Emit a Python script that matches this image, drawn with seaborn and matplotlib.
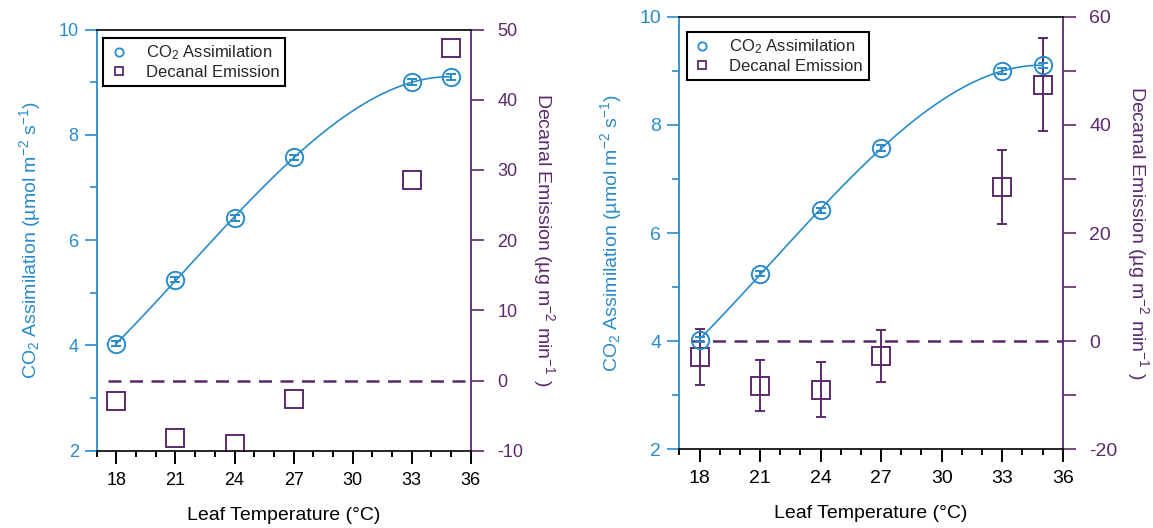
import matplotlib
matplotlib.use("Agg")
import matplotlib.pyplot as plt
from matplotlib.lines import Line2D
from matplotlib.ticker import MultipleLocator
import seaborn as sns
import numpy as np

# ---- data ----
temps = [18, 21, 24, 27, 33, 35]
co2 = [4.03, 5.25, 6.42, 7.57, 9.00, 9.10]
co2_err = [0.05, 0.04, 0.05, 0.05, 0.06, 0.05]
decanal = [-2.9, -8.2, -9.0, -2.7, 28.5, 47.4]
decanal_err = [5.2, 4.7, 5.1, 4.8, 6.8, 8.6]

x_ticks = [18, 21, 24, 27, 30, 33, 36]
left_ylim = (2, 10)
right_ylim_a = (-10, 50)
right_ylim_b = (-20, 60)

BLUE = "#2a8bc9"
PURPLE = "#5b2a6b"

sns.set_theme(style="ticks")
plt.rcParams["font.family"] = ["Liberation Sans", "DejaVu Sans"]
plt.rcParams["mathtext.fontset"] = "custom"
plt.rcParams["mathtext.rm"] = "Liberation Sans"
plt.rcParams["mathtext.it"] = "Liberation Sans:italic"
plt.rcParams["mathtext.default"] = "regular"
plt.rcParams["axes.unicode_minus"] = False

fig = plt.figure(figsize=(11.53, 5.28), dpi=100)

def panel(rect, rylim, rmajor, rminor, show_err, legend_anchor, tick_fs):
    ax = fig.add_axes(rect)
    ax2 = ax.twinx()
    ax.set_xlim(17, 36)
    ax.set_ylim(*left_ylim)
    ax2.set_ylim(*rylim)

    # reference line at zero
    ax2.axhline(0, xmin=0.03, xmax=1, color=PURPLE, lw=1.8,
                linestyle=(0, (5.2, 3.4)), zorder=1)

    # decanal emission
    ax2.errorbar(temps, decanal, yerr=decanal_err if show_err else None,
                 fmt="s", ms=12.5, mfc="none", mec=PURPLE, mew=1.4,
                 ecolor=PURPLE, elinewidth=1.4, capsize=3.6, capthick=1.4,
                 zorder=3)

    # co2 assimilation fit + points
    sns.regplot(x=np.array(temps), y=np.array(co2), order=3, ci=None,
                scatter=False, ax=ax, line_kws=dict(color=BLUE, lw=1.2))
    ax.errorbar(temps, co2, yerr=co2_err, fmt="o", ms=12.5, mfc="none",
                mec=BLUE, mew=1.4, ecolor=BLUE, elinewidth=1.4,
                capsize=3.6, capthick=1.4, zorder=4)
    ax.set_zorder(ax2.get_zorder() + 1)
    ax.patch.set_visible(False)

    # ticks
    ax.set_xticks(x_ticks)
    ax.xaxis.set_minor_locator(MultipleLocator(1))
    ax.yaxis.set_major_locator(MultipleLocator(2))
    ax.yaxis.set_minor_locator(MultipleLocator(1))
    ax2.yaxis.set_major_locator(MultipleLocator(rmajor))
    if rminor:
        ax2.yaxis.set_minor_locator(MultipleLocator(rminor))

    ax.tick_params(axis="x", which="major", direction="out", length=9,
                   width=1.4, colors="black", labelsize=tick_fs, pad=6)
    ax.tick_params(axis="x", which="minor", direction="out", length=4.5,
                   width=1.4, colors="black")
    ax.tick_params(axis="y", which="major", direction="out", length=9,
                   width=1.2, colors=BLUE, labelsize=tick_fs, pad=4)
    ax.tick_params(axis="y", which="minor", direction="out", length=5,
                   width=1.2, colors=BLUE)
    ax2.tick_params(axis="y", which="major", direction="out", length=9,
                    width=1.2, colors=PURPLE, labelsize=tick_fs, pad=10)
    ax2.tick_params(axis="y", which="minor", direction="out", length=9,
                    width=1.2, colors=PURPLE)

    for s in ["top", "bottom"]:
        ax.spines[s].set_color("black")
        ax.spines[s].set_linewidth(1.2)
    ax.spines["left"].set_color(BLUE)
    ax.spines["left"].set_linewidth(1.3)
    ax.spines["right"].set_visible(False)
    for s in ["top", "bottom", "left"]:
        ax2.spines[s].set_visible(False)
    ax2.spines["right"].set_color(PURPLE)
    ax2.spines["right"].set_linewidth(1.3)

    ax.set_xlabel("Leaf Temperature (°C)", fontsize=14, color="black",
                  labelpad=13)
    ax.set_ylabel(r"CO$_2$ Assimilation (µmol m$^{-2}$ s$^{-1}$)",
                  fontsize=14, color=BLUE, labelpad=11)
    ax2.set_ylabel(r"Decanal Emission (µg m$^{-2}$ min$^{-1}$ )",
                   fontsize=14, color=PURPLE, rotation=270, labelpad=24)

    handles = [
        Line2D([], [], ls="none", marker="o", ms=6, mfc="none", mec=BLUE,
               mew=1.3),
        Line2D([], [], ls="none", marker="s", ms=6, mfc="none", mec=PURPLE,
               mew=1.3),
    ]
    leg = ax.legend(handles, [r"CO$_2$ Assimilation", "Decanal Emission"],
                    loc="upper left", bbox_to_anchor=legend_anchor,
                    borderaxespad=0, frameon=True, fancybox=False,
                    framealpha=1, edgecolor="black", fontsize=12,
                    handlelength=1.2, handletextpad=1.0, labelspacing=0.15,
                    borderpad=0.35)
    leg.get_frame().set_linewidth(1.5)
    return ax, ax2

panel([0.0839, 0.1464, 0.3244, 0.7977], right_ylim_a, 10, None, False,
      (0.017, 0.98), 13)
panel([0.5892, 0.1490, 0.3325, 0.8193], right_ylim_b, 20, 10, True,
      (0.019, 0.965), 14)

fig.savefig("out.png", dpi=100, facecolor="white")
